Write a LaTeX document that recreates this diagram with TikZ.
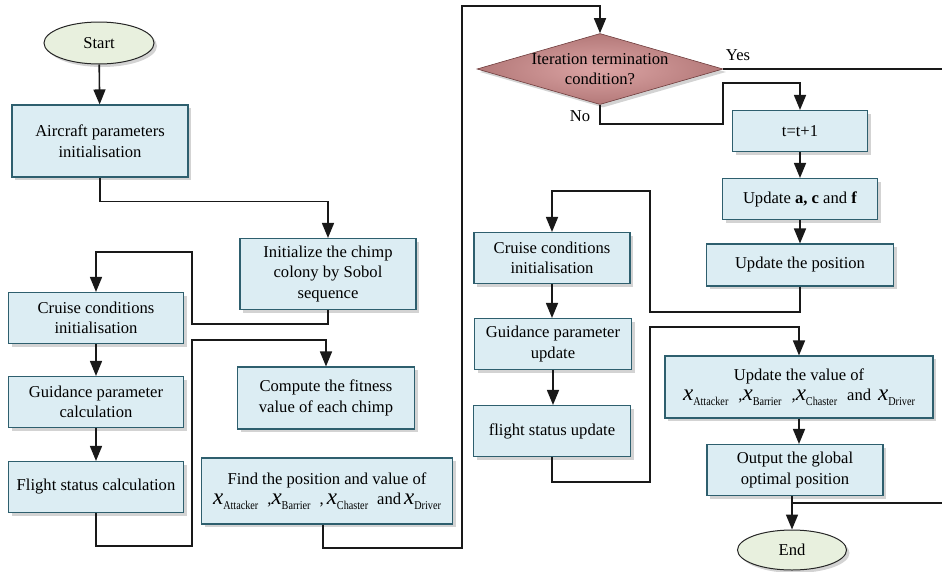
\documentclass[tikz,border=0pt]{standalone}
\usepackage{fontspec}
\setmainfont{Liberation Serif}
\usetikzlibrary{arrows.meta,shapes.geometric,shadows}
\definecolor{boxfill}{RGB}{220,237,243}
\definecolor{boxline}{RGB}{46,95,110}
\definecolor{ovalfill}{RGB}{232,240,222}
\definecolor{diafill}{RGB}{211,142,142}
\definecolor{dialine}{RGB}{110,60,60}
\newcommand{\vx}[1]{{\fontsize{23}{23}\selectfont\itshape x}\raisebox{-5pt}{\fontsize{12}{12}\selectfont\scalebox{0.85}[1]{#1}}}
\begin{document}
\begin{tikzpicture}[x=1pt,y=-1pt,
  font=\fontsize{16.6}{20.5}\selectfont,
  myshadow/.style={drop shadow={opacity=0.35,shadow xshift=3pt,shadow yshift=-3pt}},
  box/.style={rectangle,draw=boxline,fill=boxfill,line width=1.1pt,align=center,inner sep=1pt,myshadow},
  oval/.style={ellipse,draw=black!85,fill=ovalfill,line width=1pt,inner sep=0pt,myshadow},
  arr/.style={line width=1.6pt,draw=black!90,-{Triangle[length=15pt,width=12pt]}},
  ln/.style={line width=1.6pt,draw=black!90},
  lbl/.style={inner sep=0pt}]
\useasboundingbox (0,0) rectangle (942,571);

% left column
\node[oval,minimum width=110pt,minimum height=42pt] (start) at (99,43) {Start};
\node[box,minimum width=176pt,minimum height=72pt] (air) at (100,141) {Aircraft parameters\\initialisation};
\node[box,minimum width=176pt,minimum height=71pt] (init) at (328,274) {Initialize the chimp\\colony by Sobol\\sequence};
\node[box,minimum width=175pt,minimum height=51pt] (cruise) at (96,318) {Cruise conditions\\initialisation};
\node[box,minimum width=175pt,minimum height=51pt] (guid) at (96,402) {Guidance parameter\\calculation};
\node[box,minimum width=175pt,minimum height=51pt] (flight) at (96,487) {Flight status calculation};
\node[box,minimum width=177pt,minimum height=62pt] (comp) at (326,398) {Compute the fitness\\value of each chimp};
\node[box,minimum width=251pt,minimum height=66pt] (find) at (327,491) {Find the position and value of\\\vx{Attacker}\kern9pt,\vx{Barrier}\kern9pt,\kern3pt\vx{Chaster}\kern9pt and\kern3pt\vx{Driver}};

% right part
\node[diamond,draw=dialine,line width=0.6pt,inner color=diafill!80!white,outer color=diafill!85!black,
  minimum width=246pt,minimum height=71pt,inner sep=0pt,myshadow,
  label={[align=center,font=\fontsize{16.6}{20.5}\selectfont]center:Iteration termination\\condition?}] (iter) at (600,69) {};
\node[box,minimum width=135pt,minimum height=41pt] (tinc) at (800,131) {t=t+1};
\node[box,minimum width=155pt,minimum height=41pt] (acf) at (800,199) {Update \textbf{a, c} and \textbf{f}};
\node[box,minimum width=187pt,minimum height=42pt] (pos) at (800,265) {Update the position};
\node[box,minimum width=156pt,minimum height=51pt] (cruise2) at (552,258) {Cruise conditions\\initialisation};
\node[box,minimum width=157pt,minimum height=51pt] (guid2) at (553,344) {Guidance parameter\\update};
\node[box,minimum width=157pt,minimum height=51pt] (flight2) at (552,431) {flight status update};
\node[box,minimum width=268pt,minimum height=62pt] (upd) at (799,387) {Update the value of\\\vx{Attacker}\kern10pt,\vx{Barrier}\kern10pt,\vx{Chaster}\kern10pt and\kern7pt\vx{Driver}};
\node[box,minimum width=176pt,minimum height=51pt] (out) at (795,470) {Output the global\\optimal position};
\node[oval,minimum width=109pt,minimum height=40pt] (end) at (792,550) {End};

\node[lbl] (yes) at (738,55) {Yes};
\node[lbl] (no) at (580,116) {No};
\coordinate (yesend) at (942,69);
\coordinate (outend) at (942,503);

% connectors
\draw[arr] (start) -- (air);
\draw[arr] (air.south) -- ++(0,24) -| (init.north);
\draw[arr] (init.south) |- (192,324) -- (192,252) -| (cruise.north);
\draw[arr] (cruise) -- (guid);
\draw[arr] (guid) -- (flight);
\draw[arr] (flight.south) |- (192,546) -- (192,340) -| (comp.north);
\draw[arr] ([xshift=-4pt]find.south) |- (462,548) -- (462,6) -| (iter.north);
\draw[ln] (iter.east) -- (yesend);
\draw[arr] (iter.south) |- (723,124) -- (723,83) -| (tinc.north);
\draw[arr] (tinc) -- (acf);
\draw[arr] (acf) -- (pos);
\draw[arr] (pos.south) |- (650,312) -- (650,191) -| (cruise2.north);
\draw[arr] (cruise2.south) -- (cruise2.south |- guid2.north);
\draw[arr] (guid2.south) -- (guid2.south |- flight2.north);
\draw[arr] (flight2.south) |- (650,482) -- (650,327) -| (upd.north);
\draw[arr] (upd.south) -- (upd.south |- out.north);
\draw[arr] (end.north |- out.south) -- (end.north);
\draw[ln] (end.north |- outend) -- (outend);
\end{tikzpicture}
\end{document}
